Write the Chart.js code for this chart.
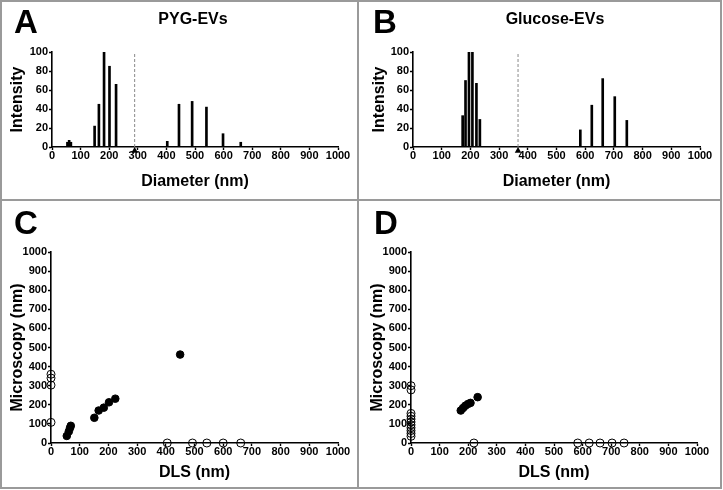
<!DOCTYPE html>
<html>
<head>
<meta charset="utf-8">
<script src="https://cdn.jsdelivr.net/npm/chart.js@4.4.1/dist/chart.umd.min.js"></script>
<style>
  html, body { margin: 0; padding: 0; background: #fff; }
  #wrap { position: relative; width: 723px; height: 490px; overflow: hidden; font-family: "Liberation Sans", Arial, sans-serif; }
  .frame { position: absolute; border: 2px solid #9a9a9a; box-sizing: border-box; }
  .vline { position: absolute; background: #9a9a9a; }
  .cv { position: absolute; }
  .letter { position: absolute; font-weight: bold; font-size: 33px; line-height: 1; color: #000; }
  .ttl { position: absolute; font-weight: bold; font-size: 16px; line-height: 1; color: #000; text-align: center; width: 200px; }
</style>
</head>
<body>
<div id="wrap">
  <div class="frame" style="left:0;top:0;width:722px;height:489px;"></div>
  <div class="vline" style="left:357px;top:0;width:2px;height:489px;"></div>
  <div class="vline" style="left:0;top:199px;width:722px;height:2px;"></div>

  <div class="cv" style="left:0;top:0;width:359px;height:200px;"><canvas id="cA"></canvas></div>
  <div class="cv" style="left:359px;top:0;width:362px;height:200px;"><canvas id="cB"></canvas></div>
  <div class="cv" style="left:0;top:200px;width:359px;height:289px;"><canvas id="cC"></canvas></div>
  <div class="cv" style="left:359px;top:200px;width:362px;height:289px;"><canvas id="cD"></canvas></div>

  <div class="letter" style="left:14px;top:5px;">A</div>
  <div class="letter" style="left:373px;top:5px;">B</div>
  <div class="letter" style="left:14px;top:206px;">C</div>
  <div class="letter" style="left:374px;top:206px;">D</div>
  <div class="ttl" style="left:93px;top:11px;">PYG-EVs</div>
  <div class="ttl" style="left:455px;top:11px;">Glucose-EVs</div>
</div>
<script>
// ---- Data ----
// Panel A: PYG-EVs DLS intensity distribution
const diamA = [54, 60, 66, 149, 164, 182, 201, 224, 403, 444, 490, 540, 598, 660];
const intA  = [5, 7, 5, 22, 45, 100, 85, 66, 6, 45, 48, 42, 14, 5];
const meanA = 289;
// Panel B: Glucose-EVs DLS intensity distribution
const diamB = [173, 183, 195, 207, 221, 233, 583, 623, 661, 703, 745];
const intB  = [33, 70, 100, 100, 67, 29, 18, 44, 72, 53, 28];
const meanB = 366;
// Panel C: DLS vs microscopy (PYG-EVs)
const dlsC = [55, 62, 66, 69, 151, 166, 184, 202, 224, 450];
const micC = [37, 60, 78, 90, 132, 170, 185, 213, 232, 463];
const micOnlyC = [108, 303, 340, 360];      // DLS = 0
const dlsOnlyC = [405, 493, 543, 600, 661];  // microscopy = 0
// Panel D: DLS vs microscopy (Glucose-EVs)
const dlsD = [174, 182, 190, 199, 208, 233];
const micD = [170, 183, 195, 204, 210, 240];
const micOnlyD = [35, 50, 65, 80, 95, 110, 125, 140, 155, 278, 300];
const dlsOnlyD = [220, 583, 623, 661, 703, 745];
const xTicks = [0, 100, 200, 300, 400, 500, 600, 700, 800, 900, 1000];

Chart.defaults.font.family = '"Liberation Sans", Arial, sans-serif';
Chart.defaults.color = '#000';
Chart.defaults.animation = false;

const tickFont = { size: 11, weight: 'bold' };
const titleFont = { size: 16, weight: 'bold' };
const plain = v => String(v);

function axisX(title, height, padBottom) {
  return {
    type: 'linear', min: 0, max: 1000, offset: false,
    afterBuildTicks: s => { s.ticks = xTicks.map(v => ({ value: v })); },
    afterFit: s => { s.height = height; },
    border: { display: true, color: '#000', width: 1.6 },
    grid: { display: true, drawOnChartArea: false, drawTicks: true, tickLength: 3, tickWidth: 1.4, tickColor: '#000', offset: false },
    ticks: { font: tickFont, padding: -1, maxRotation: 0, autoSkip: false, color: '#000', callback: plain },
    title: { display: true, text: title, font: titleFont, color: '#000', padding: { top: 0, bottom: padBottom } }
  };
}
function axisY(title, max, step, width, padTop) {
  return {
    type: 'linear', min: 0, max: max, beginAtZero: true,
    afterFit: s => { s.width = width; },
    border: { display: true, color: '#000', width: 1.6 },
    grid: { display: true, drawOnChartArea: false, drawTicks: true, tickLength: 3, tickWidth: 1.4, tickColor: '#000' },
    ticks: { font: tickFont, stepSize: step, padding: 1, color: '#000', callback: plain },
    title: { display: true, text: title, font: titleFont, color: '#000', padding: { top: padTop, bottom: 0 } }
  };
}

function barPanel(id, diam, inten, mean, yWidth, yPad, rightPad) {
  new Chart(document.getElementById(id), {
    type: 'bar',
    data: {
      datasets: [
        { type: 'bar', data: diam.map((d, i) => ({ x: d, y: inten[i] })), backgroundColor: '#000', borderWidth: 0, barThickness: 2, order: 2 },
        { type: 'line', data: [{ x: mean, y: 0 }, { x: mean, y: 100 }], borderColor: '#8a8a8a', borderWidth: 1, borderDash: [3, 2], pointRadius: 0, fill: false, order: 1 },
        { type: 'scatter', data: [{ x: mean, y: -4 }], pointStyle: 'triangle', pointRadius: 3.8, backgroundColor: '#000', borderColor: '#000', borderWidth: 0, clip: false, order: 0 }
      ]
    },
    options: {
      responsive: true, maintainAspectRatio: false,
      layout: { padding: { top: 52, left: 0, right: rightPad, bottom: 0 } },
      plugins: { legend: { display: false }, tooltip: { enabled: false } },
      scales: {
        x: axisX('Diameter (nm)', 53, 8.4),
        y: axisY('Intensity', 100, 20, yWidth, yPad)
      }
    }
  });
}

function scatterPanel(id, dls, mic, micOnly, dlsOnly, yWidth, yPad, rightPad) {
  const filled = dls.map((d, i) => ({ x: d, y: mic[i] }));
  const open = micOnly.map(m => ({ x: 0, y: m })).concat(dlsOnly.map(d => ({ x: d, y: 0 })));
  new Chart(document.getElementById(id), {
    type: 'scatter',
    data: {
      datasets: [
        { data: open, pointRadius: 4, pointStyle: 'circle', backgroundColor: 'rgba(255,255,255,0)', borderColor: '#000', borderWidth: 1, clip: false },
        { data: filled, pointRadius: 3.8, pointStyle: 'circle', backgroundColor: '#000', borderColor: '#000', borderWidth: 1, clip: false }
      ]
    },
    options: {
      responsive: true, maintainAspectRatio: false,
      layout: { padding: { top: 52, left: 0, right: rightPad, bottom: 0 } },
      plugins: { legend: { display: false }, tooltip: { enabled: false } },
      scales: {
        x: axisX('DLS (nm)', 46, 6.4),
        y: axisY('Microscopy (nm)', 1000, 100, yWidth, yPad)
      }
    }
  });
}

barPanel('cA', diamA, intA, meanA, 52, 8.4, 21);
barPanel('cB', diamB, intB, meanB, 54, 11.4, 21);
scatterPanel('cC', dlsC, micC, micOnlyC, dlsOnlyC, 51, 8.4, 21);
scatterPanel('cD', dlsD, micD, micOnlyD, dlsOnlyD, 52, 9.4, 24);
</script>
</body>
</html>
